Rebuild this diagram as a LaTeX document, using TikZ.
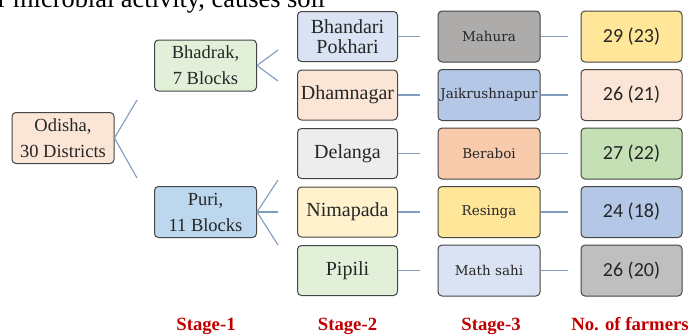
\documentclass[tikz,border=0pt]{standalone}
\usepackage{fontspec}
\setmainfont{Liberation Serif}
\newfontfamily\numfont{Carlito}
\newfontfamily\stfont{DejaVu Serif}
\definecolor{linec}{HTML}{7F9CC0}
\definecolor{edgec}{HTML}{454545}
\definecolor{stagered}{HTML}{C00000}
\definecolor{cpeach}{HTML}{FBE5D6}
\definecolor{cgreenl}{HTML}{E2F0D9}
\definecolor{cbluem}{HTML}{BDD7EE}
\definecolor{cbluel}{HTML}{DAE3F3}
\definecolor{cgreyl}{HTML}{EDEDED}
\definecolor{cyell}{HTML}{FFF2CC}
\definecolor{cgreyd}{HTML}{AEABAB}
\definecolor{cblued}{HTML}{B4C7E7}
\definecolor{corange}{HTML}{F8CBAD}
\definecolor{cyelm}{HTML}{FFE699}
\definecolor{cgreenm}{HTML}{C5E0B4}
\definecolor{cgreym}{HTML}{BFBFBF}
\tikzset{
  box/.style={draw=edgec, line width=1pt, rounded corners=4pt, inner sep=0pt, align=center, text=black!85},
  boxA/.style={box, minimum width=102pt, minimum height=51pt, font=\fontsize{18.5}{26}\selectfont},
  boxB/.style={box, minimum width=100pt, minimum height=50pt, font=\fontsize{20}{20}\selectfont},
  boxC/.style={box, minimum width=102pt, minimum height=51pt, font=\stfont\fontsize{13.5}{16}\selectfont},
  boxD/.style={box, minimum width=101pt, minimum height=51pt, font=\numfont\fontsize{20}{24}\selectfont},
  conn/.style={draw=linec, line width=1.1pt},
  stagelbl/.style={text=stagered, font=\bfseries\fontsize{18.7}{22}\selectfont, anchor=base, inner sep=0pt}
}
\begin{document}
\begin{tikzpicture}[x=1pt,y=-1pt]
\useasboundingbox (0,0) rectangle (690,335);
\fill[white] (0,0) rectangle (690,335);
\begin{scope}
\clip (0,0) rectangle (690,335);
\node[anchor=base west, inner sep=0pt, font=\fontsize{26.4}{30}\selectfont] (frag) at (-2.4,7) {r microbial activity, causes soil};
\end{scope}

% Stage 0/1
\node[boxA, fill=cpeach] (odisha) at (63,138) {Odisha,\\30 Districts};
\node[boxA, fill=cgreenl] (bhadrak) at (205.5,65.5) {Bhadrak,\\7 Blocks};
\node[boxA, fill=cbluem] (puri) at (205.5,212) {Puri,\\11 Blocks};

% Stage 2
\node[boxB, fill=cbluel] (s2a) at (347.5,36.5) {Bhandari\\Pokhari};
\node[boxB, fill=cpeach] (s2b) at (347.5,95) {Dhamnagar};
\node[boxB, fill=cgreyl] (s2c) at (347.5,153.5) {Delanga};
\node[boxB, fill=cyell] (s2d) at (347.5,212) {Nimapada};
\node[boxB, fill=cgreenl] (s2e) at (347.5,270.5) {Pipili};

% Stage 3
\node[boxC, fill=cgreyd] (s3a) at (489,36.5) {Mahura};
\node[boxC, fill=cblued] (s3b) at (489,95) {Jaikrushnapur};
\node[boxC, fill=corange] (s3c) at (489,153.5) {Beraboi};
\node[boxC, fill=cyelm] (s3d) at (489,212) {Resinga};
\node[boxC, fill=cbluel] (s3e) at (489,270.5) {Math sahi};

% Farmers
\node[boxD, fill=cyelm] (fa) at (631.5,36.5) {29 (23)};
\node[boxD, fill=cpeach] (fb) at (631.5,95) {26 (21)};
\node[boxD, fill=cgreenm] (fc) at (631.5,153.5) {27 (22)};
\node[boxD, fill=cblued] (fd) at (631.5,212) {24 (18)};
\node[boxD, fill=cgreym] (fe) at (631.5,270.5) {26 (20)};

% connector free ends
\coordinate (o1) at (137,100);
\coordinate (o2) at (137,178);
\coordinate (b1) at (278,50);
\coordinate (b2) at (278,81);
\coordinate (p1) at (278,180);
\coordinate (p2) at (278,212);
\coordinate (p3) at (278,245);
\foreach \r/\y in {a/36.5,b/95,c/153.5,d/212,e/270.5}{
  \coordinate (h\r) at (420,\y);
  \coordinate (k\r) at (568,\y);
}

\draw[conn] (odisha.east) -- (o1);
\draw[conn] (odisha.east) -- (o2);
\draw[conn] (bhadrak.east) -- (b1);
\draw[conn] (bhadrak.east) -- (b2);
\draw[conn] (puri.east) -- (p1);
\draw[conn] (puri.east) -- (p2);
\draw[conn] (puri.east) -- (p3);
\foreach \r in {a,b,c,d,e}{
  \draw[conn] (s2\r.east) -- (h\r);
  \draw[conn] (s3\r.east) -- (k\r);
}

% Stage labels
\node[stagelbl] (st1) at (206,330) {Stage-1};
\node[stagelbl] (st2) at (347.5,330) {Stage-2};
\node[stagelbl] (st3) at (491,330) {Stage-3};
\node[stagelbl] (st4) at (630,330) {No. of farmers};
\end{tikzpicture}
\end{document}
